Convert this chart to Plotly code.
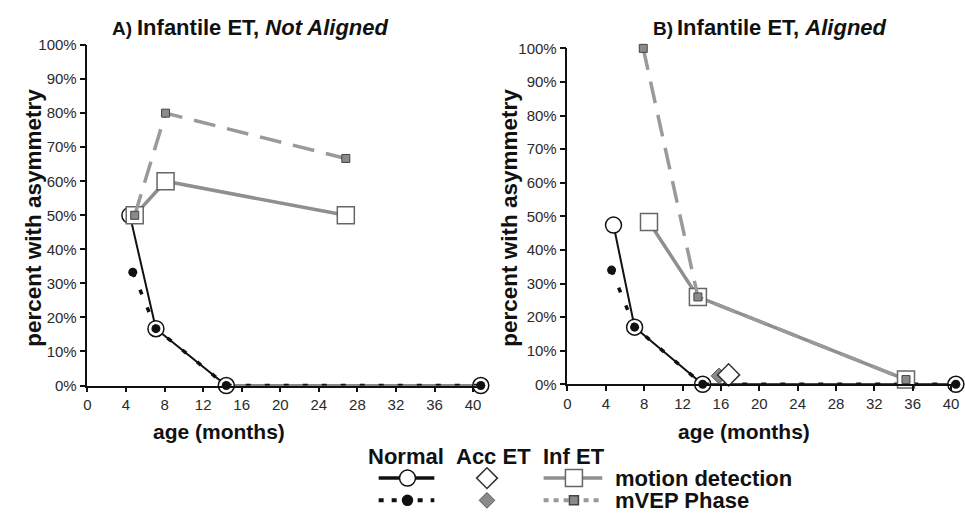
import plotly.graph_objects as go

W, H = 965, 519

# ---------------- data ----------------
x_ticks = [0, 4, 8, 12, 16, 20, 24, 28, 32, 36, 40]
y_ticks = [0, 10, 20, 30, 40, 50, 60, 70, 80, 90, 100]
y_ticktext = [f"{v}%" for v in y_ticks]

# Panel A (Not Aligned)
a_norm_motion_x = [4.4, 7.1, 14.4, 40.8]
a_norm_motion_y = [50, 16.7, 0, 0]
a_norm_mvep_x = [4.7, 7.1, 14.4, 40.8]
a_norm_mvep_y = [33.3, 16.7, 0, 0]
a_inf_motion_x = [4.9, 8.1, 26.8]
a_inf_motion_y = [50, 60, 50]
a_inf_mvep_x = [4.9, 8.1, 26.8]
a_inf_mvep_y = [50, 80, 66.7]

# Panel B (Aligned)
b_norm_motion_x = [4.8, 7.0, 14.1, 40.5]
b_norm_motion_y = [47.4, 17, 0, 0]
b_norm_mvep_x = [4.6, 7.0, 14.1, 40.5]
b_norm_mvep_y = [34, 17, 0, 0]
b_inf_motion_x = [8.5, 13.6, 35.3]
b_inf_motion_y = [48.3, 26, 1.4]
b_inf_mvep_x = [7.9, 13.6, 35.3]
b_inf_mvep_y = [100, 26, 1.4]
b_acc_motion_x = [16.8]
b_acc_motion_y = [2.8]
b_acc_mvep_x = [15.8]
b_acc_mvep_y = [2.5]

# ---------------- styles ----------------
BLACK = "#111111"
GRAY_LINE = "#8f8f8f"
GRAY_DASH = "#9a9a9a"
GRAY_FILL = "#8a8a8a"
FONT = "Liberation Sans, Arial, sans-serif"


def px_x(p):
    return p / W


def px_y(p):
    return 1 - p / H


fig = go.Figure()


def add_panel(xa, ya, nm_x, nm_y, nv_x, nv_y, im_x, im_y, iv_x, iv_y):
    fig.add_trace(go.Scatter(
        x=nm_x, y=nm_y, xaxis=xa, yaxis=ya, mode="lines+markers",
        line=dict(color=BLACK, width=2),
        marker=dict(symbol="circle", size=16, color="white",
                    line=dict(color=BLACK, width=1.5)),
        cliponaxis=False, showlegend=False))
    fig.add_trace(go.Scatter(
        x=nv_x, y=nv_y, xaxis=xa, yaxis=ya, mode="lines+markers",
        line=dict(color=BLACK, width=3.5, dash="5px,14px"),
        marker=dict(symbol="circle", size=9, color=BLACK),
        cliponaxis=False, showlegend=False))
    fig.add_trace(go.Scatter(
        x=im_x, y=im_y, xaxis=xa, yaxis=ya, mode="lines+markers",
        line=dict(color=GRAY_LINE, width=3.5),
        marker=dict(symbol="square", size=17, color="white",
                    line=dict(color="#666666", width=1.5)),
        cliponaxis=False, showlegend=False))
    fig.add_trace(go.Scatter(
        x=iv_x, y=iv_y, xaxis=xa, yaxis=ya, mode="lines+markers",
        line=dict(color=GRAY_DASH, width=3.5, dash="22px,12px"),
        marker=dict(symbol="square", size=8, color=GRAY_FILL,
                    line=dict(color="#444444", width=1)),
        cliponaxis=False, showlegend=False))


add_panel("x", "y", a_norm_motion_x, a_norm_motion_y, a_norm_mvep_x, a_norm_mvep_y,
          a_inf_motion_x, a_inf_motion_y, a_inf_mvep_x, a_inf_mvep_y)
add_panel("x2", "y2", b_norm_motion_x, b_norm_motion_y, b_norm_mvep_x, b_norm_mvep_y,
          b_inf_motion_x, b_inf_motion_y, b_inf_mvep_x, b_inf_mvep_y)

fig.add_trace(go.Scatter(
    x=b_acc_mvep_x, y=b_acc_mvep_y, xaxis="x2", yaxis="y2", mode="markers",
    marker=dict(symbol="diamond", size=12, color=GRAY_FILL,
                line=dict(color="#555555", width=1)),
    cliponaxis=False, showlegend=False))
fig.add_trace(go.Scatter(
    x=b_acc_motion_x, y=b_acc_motion_y, xaxis="x2", yaxis="y2", mode="markers",
    marker=dict(symbol="diamond", size=17, color="white",
                line=dict(color="#333333", width=1.5)),
    cliponaxis=False, showlegend=False))

# ---------------- legend (drawn on a pixel overlay axis) ----------------
leg_row1, leg_row2 = 485, 508
legend_items = [
    # x0, x1, y, line color, width, dash, marker symbol, size, fill, edge
    (377, 433, leg_row1, BLACK, 3.5, "solid", "circle", 16, "white", BLACK),
    (377, 433, leg_row2, BLACK, 4, "5px,8px", "circle", 10, BLACK, BLACK),
    (543, 602, leg_row1, GRAY_LINE, 3.5, "solid", "square", 17, "white", "#666666"),
    (543, 602, leg_row2, GRAY_DASH, 4, "5px,5px", "square", 9, GRAY_FILL, "#444444"),
]
for x0, x1, yy, lc, lw, dash, sym, sz, fc, ec in legend_items:
    fig.add_trace(go.Scatter(
        x=[x0, x1], y=[yy, yy], xaxis="x3", yaxis="y3", mode="lines",
        line=dict(color=lc, width=lw, dash=dash), showlegend=False, hoverinfo="skip"))
    fig.add_trace(go.Scatter(
        x=[(x0 + x1) / 2 + 1], y=[yy], xaxis="x3", yaxis="y3", mode="markers",
        marker=dict(symbol=sym, size=sz, color=fc, line=dict(color=ec, width=1.5)),
        showlegend=False, hoverinfo="skip"))
fig.add_trace(go.Scatter(
    x=[486], y=[leg_row1], xaxis="x3", yaxis="y3", mode="markers",
    marker=dict(symbol="diamond", size=16, color="white", line=dict(color="#333333", width=1.5)),
    showlegend=False, hoverinfo="skip"))
fig.add_trace(go.Scatter(
    x=[486], y=[leg_row2], xaxis="x3", yaxis="y3", mode="markers",
    marker=dict(symbol="diamond", size=12, color=GRAY_FILL, line=dict(color="#555555", width=1)),
    showlegend=False, hoverinfo="skip"))

# ---------------- axes ----------------
axis_common = dict(
    showgrid=False, zeroline=False, showline=True, linecolor=BLACK, linewidth=1.5,
    ticks="outside", tickcolor=BLACK, tickwidth=1.5,
    tickfont=dict(family=FONT, size=15, color="#2a2a2a"), fixedrange=True,
)

# pixel geometry of the two panels (window pixels)
A_PPM, B_PPM = 9.7, 9.65          # pixels per month
A_L, A_T, A_B = 84, 37.3, 389.3
A_MAX = 41.0
A_R = A_L + A_MAX * A_PPM
B_L, B_T, B_B = 567, 40.7, 388
B_MAX = 40.7
B_R = B_L + B_MAX * B_PPM

fig.update_layout(
    xaxis=dict(domain=[px_x(A_L), px_x(A_R)], range=[0, A_MAX],
               tickvals=x_ticks, anchor="y", ticklen=5, **axis_common),
    yaxis=dict(domain=[px_y(A_B), px_y(A_T)], range=[0, 100], tickvals=y_ticks,
               ticktext=y_ticktext, anchor="x", ticklen=6, **axis_common),
    xaxis2=dict(domain=[px_x(B_L), px_x(B_R)], range=[0, B_MAX],
                tickvals=x_ticks, anchor="y2", ticklen=5, **axis_common),
    yaxis2=dict(domain=[px_y(B_B), px_y(B_T)], range=[0, 100], tickvals=y_ticks,
                ticktext=y_ticktext, anchor="x2", ticklen=6, **axis_common),
    xaxis3=dict(domain=[0, 1], range=[0, W], visible=False, anchor="y3", fixedrange=True),
    yaxis3=dict(domain=[0, 1], range=[H, 0], visible=False, anchor="x3", fixedrange=True),
)

BOLD = dict(family=FONT, size=22, color=BLACK)
XT = dict(family=FONT, size=21, color=BLACK)
SMALL = dict(family=FONT, size=19, color=BLACK)
annotations = [
    dict(x=px_x(107), y=px_y(20), xanchor="left", text="<b>A)</b>", font=SMALL),
    dict(x=px_x(132), y=px_y(19), xanchor="left",
         text="<b>Infantile ET, <i>Not Aligned</i></b>", font=BOLD),
    dict(x=px_x(651), y=px_y(20), xanchor="left", text="<b>B)</b>", font=SMALL),
    dict(x=px_x(675), y=px_y(19), xanchor="left",
         text="<b>Infantile ET, <i>Aligned</i></b>", font=BOLD),
    dict(x=px_x(30), y=px_y(216), text="<b>percent with asymmetry</b>", textangle=-90,
         font=dict(family=FONT, size=22.5, color=BLACK)),
    dict(x=px_x(509), y=px_y(216), text="<b>percent with asymmetry</b>", textangle=-90,
         font=dict(family=FONT, size=22.5, color=BLACK)),
    dict(x=px_x(216), y=px_y(437), text="<b>age (months)</b>", font=XT),
    dict(x=px_x(745), y=px_y(437), text="<b>age (months)</b>", font=XT),
    dict(x=px_x(405), y=px_y(463), text="<b>Normal</b>", font=BOLD),
    dict(x=px_x(493), y=px_y(463), text="<b>Acc ET</b>", font=BOLD),
    dict(x=px_x(574), y=px_y(463), text="<b>Inf ET</b>", font=BOLD),
    dict(x=px_x(613), y=px_y(leg_row1), text="<b>motion detection</b>", font=BOLD, xanchor="left"),
    dict(x=px_x(613), y=px_y(leg_row2), text="<b>mVEP Phase</b>", font=BOLD, xanchor="left"),
]
for a in annotations:
    a.setdefault("xanchor", "center")
    a.update(xref="paper", yref="paper", yanchor="middle", showarrow=False)

fig.update_layout(
    width=W, height=H, margin=dict(l=0, r=0, t=0, b=0),
    paper_bgcolor="white", plot_bgcolor="rgba(0,0,0,0)",
    annotations=annotations, showlegend=False,
)

fig.write_html(
    "out.html",
    config={"displayModeBar": False},
    post_script="document.body.style.margin='0px';"
                "document.documentElement.style.overflow='hidden';",
)
